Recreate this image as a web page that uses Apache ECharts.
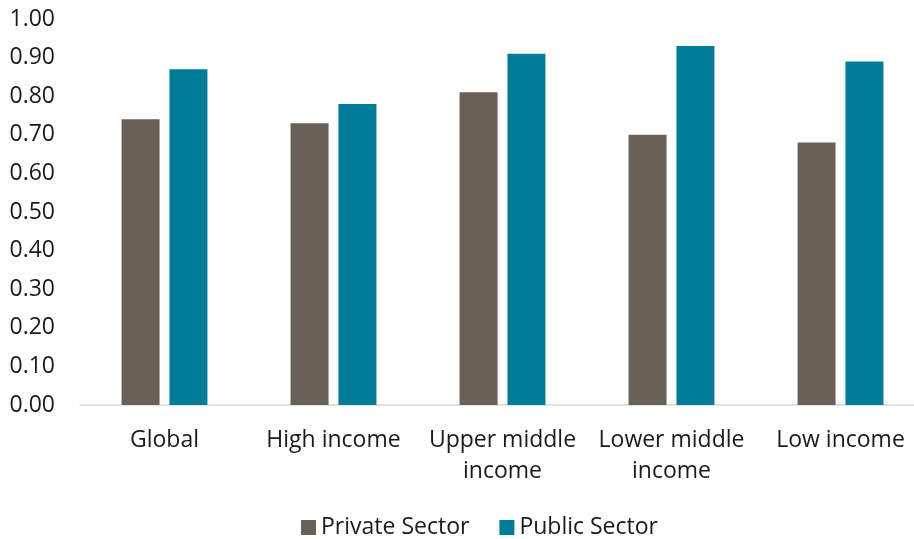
<!DOCTYPE html>
<html>
<head>
<meta charset="utf-8">
<script src="https://cdn.jsdelivr.net/npm/echarts@6/dist/echarts.min.js"></script>
<style>
  html, body { margin: 0; padding: 0; background: #fff; }
  #chart { width: 914px; height: 539px; }
</style>
</head>
<body>
<div id="chart"></div>
<script>
// Income groups along the x axis
const categories = ['Global', 'High income', 'Upper middle\nincome', 'Lower middle\nincome', 'Low income'];
// Index values per sector
const privateSector = [0.74, 0.73, 0.81, 0.70, 0.68];
const publicSector = [0.87, 0.78, 0.91, 0.93, 0.89];
const seriesNames = ['Private Sector', 'Public Sector'];

const FONT = '"Open Sans", "Noto Sans", sans-serif';

const chart = echarts.init(document.getElementById('chart'), null, { renderer: 'canvas' });
chart.setOption({
  animation: false,
  textStyle: { fontFamily: FONT },
  // plot area runs slightly past the right edge of the canvas
  grid: { left: 80, width: 845, top: 19, height: 386, containLabel: false, outerBoundsMode: 'none' },
  legend: {
    top: 511,
    left: 296,
    itemWidth: 15,
    itemHeight: 15,
    itemGap: 30,
    icon: 'rect',
    textStyle: { fontSize: 23, color: '#1a1a1a', fontFamily: FONT },
    data: seriesNames
  },
  xAxis: {
    type: 'category',
    data: categories,
    axisLine: { lineStyle: { color: '#d9d9d9', width: 1.5 } },
    axisTick: { show: false },
    axisLabel: { color: '#1a1a1a', fontSize: 23, margin: 20, lineHeight: 31, interval: 0, fontFamily: FONT }
  },
  yAxis: {
    type: 'value',
    min: 0,
    max: 1,
    interval: 0.1,
    splitLine: { show: false },
    axisLine: { show: false },
    axisTick: { show: false },
    axisLabel: {
      color: '#1a1a1a', fontSize: 23, margin: 25, fontFamily: FONT,
      formatter: v => v.toFixed(2)
    }
  },
  series: [
    {
      name: seriesNames[0],
      type: 'bar',
      data: privateSector,
      barWidth: 38,
      barGap: '26%',
      itemStyle: { color: '#696057' }
    },
    {
      name: seriesNames[1],
      type: 'bar',
      data: publicSector,
      barWidth: 38,
      itemStyle: { color: '#007C97' }
    }
  ]
});
</script>
</body>
</html>
